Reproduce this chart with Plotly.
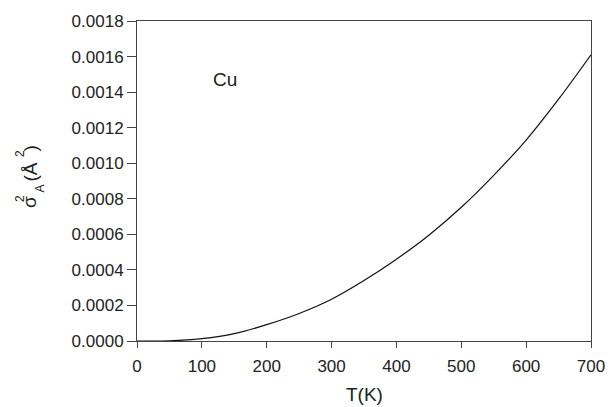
import plotly.graph_objects as go

T_K = [0, 50, 100, 150, 200, 250, 300, 350, 400, 450, 500, 550, 600, 650, 700]
sigma2 = [0.0, 0.000001, 0.000013, 0.000041, 0.000092, 0.000155, 0.000235, 0.00034,
          0.00046, 0.000595, 0.000752, 0.000932, 0.00113, 0.00136, 0.00161]

x_ticks = [0, 100, 200, 300, 400, 500, 600, 700]
y_ticks = [0.0, 0.0002, 0.0004, 0.0006, 0.0008, 0.0010, 0.0012, 0.0014, 0.0016, 0.0018]
y_tick_labels = ["0.0000", "0.0002", "0.0004", "0.0006", "0.0008", "0.0010",
                 "0.0012", "0.0014", "0.0016", "0.0018"]

FONT = "Liberation Sans, Arial, sans-serif"
W, H = 608, 407
L, R, T, B = 137, 17, 21, 66
PW, PH = W - L - R, H - T - B


def px(xp):
    return (xp - L) / PW


def py(yp):
    return (H - B - yp) / PH


fig = go.Figure()
fig.add_trace(go.Scatter(x=T_K, y=sigma2, mode="lines",
                         line=dict(color="#111", width=1.2, shape="spline"),
                         showlegend=False, hoverinfo="skip"))

fig.add_annotation(x=135, y=0.00147, text="Cu", showarrow=False,
                   font=dict(family=FONT, size=19, color="#222"))

# x-axis title
fig.add_annotation(xref="paper", yref="paper", x=px(364), y=py(394), text="T(K)",
                   showarrow=False, xanchor="center", yanchor="middle",
                   font=dict(family=FONT, size=19, color="#222"))

# y-axis title: sigma^2_A (Å^2) with stacked super/subscript
ytitle_parts = [
    ("σ", 19, 29.5, 202.5),
    ("2", 12, 19.5, 198.5),
    ("A", 12, 39.5, 189.0),
    ("(Å", 19, 29.5, 172.0),
    ("2", 12, 19.5, 153.5),
    (")", 19, 29.5, 149.0),
]
for txt, size, xp, yp in ytitle_parts:
    fig.add_annotation(xref="paper", yref="paper", x=px(xp), y=py(yp), text=txt,
                       showarrow=False, textangle=-90, xanchor="center",
                       yanchor="middle",
                       font=dict(family=FONT, size=size, color="#222"))

axis_common = dict(ticks="outside", tickcolor="#444", showline=True,
                   linecolor="#444", linewidth=1, mirror=True, showgrid=False,
                   zeroline=False, automargin=False,
                   tickfont=dict(family=FONT, size=17, color="#222"))

fig.update_layout(
    width=W, height=H,
    margin=dict(l=L, r=R, t=T, b=B, pad=0),
    plot_bgcolor="white", paper_bgcolor="white",
    font=dict(family=FONT, size=17, color="#222"),
    xaxis=dict(range=[0, 700], tickvals=x_ticks, ticklen=6, ticklabelstandoff=4,
               **axis_common),
    yaxis=dict(range=[0, 0.0018], tickvals=y_ticks, ticktext=y_tick_labels,
               ticklen=9, **axis_common),
)

fig.write_html("out.html", config={"displayModeBar": False},
               post_script="document.body.style.margin='0';document.body.style.overflow='hidden';")
